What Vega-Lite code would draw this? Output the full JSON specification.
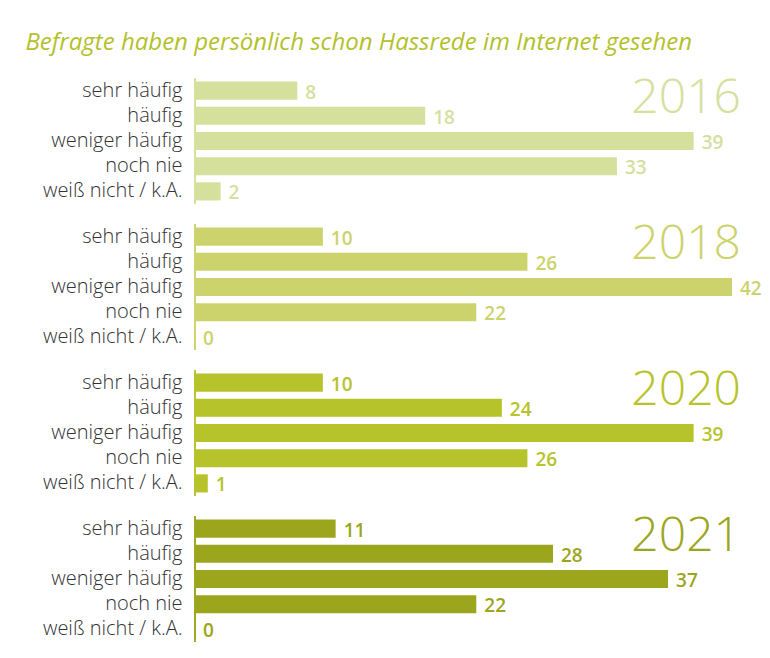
{
  "$schema": "https://vega.github.io/schema/vega-lite/v6.json",
  "background": "white",
  "padding": {"left": 25, "top": 30, "right": 10, "bottom": 10},
  "title": {
    "text": "Befragte haben persönlich schon Hassrede im Internet gesehen",
    "anchor": "start",
    "frame": "bounds",
    "font": "Open Sans",
    "fontSize": 24,
    "fontStyle": "italic",
    "fontWeight": "normal",
    "color": "#b3c12b",
    "offset": 20,
    "dx": -17
  },
  "data": {
    "values": [
      {"year": "2016", "cat": "sehr häufig", "value": 8},
      {"year": "2016", "cat": "häufig", "value": 18},
      {"year": "2016", "cat": "weniger häufig", "value": 39},
      {"year": "2016", "cat": "noch nie", "value": 33},
      {"year": "2016", "cat": "weiß nicht / k.A.", "value": 2},
      {"year": "2018", "cat": "sehr häufig", "value": 10},
      {"year": "2018", "cat": "häufig", "value": 26},
      {"year": "2018", "cat": "weniger häufig", "value": 42},
      {"year": "2018", "cat": "noch nie", "value": 22},
      {"year": "2018", "cat": "weiß nicht / k.A.", "value": 0},
      {"year": "2020", "cat": "sehr häufig", "value": 10},
      {"year": "2020", "cat": "häufig", "value": 24},
      {"year": "2020", "cat": "weniger häufig", "value": 39},
      {"year": "2020", "cat": "noch nie", "value": 26},
      {"year": "2020", "cat": "weiß nicht / k.A.", "value": 1},
      {"year": "2021", "cat": "sehr häufig", "value": 11},
      {"year": "2021", "cat": "häufig", "value": 28},
      {"year": "2021", "cat": "weniger häufig", "value": 37},
      {"year": "2021", "cat": "noch nie", "value": 22},
      {"year": "2021", "cat": "weiß nicht / k.A.", "value": 0}
    ]
  },
  "facet": {"row": {"field": "year", "type": "nominal", "header": null}},
  "spacing": {"row": 15},
  "spec": {
    "width": 560,
    "height": 126,
    "layer": [
      {
        "mark": {"type": "bar"},
        "encoding": {
          "y": {
            "field": "cat", "type": "nominal",
            "sort": ["sehr häufig", "häufig", "weniger häufig", "noch nie", "weiß nicht / k.A."],
            "scale": {"paddingInner": 0.28, "paddingOuter": 0.14},
            "axis": {"title": null, "ticks": false, "domain": false, "labelPadding": 12, "labelFontSize": 20, "labelColor": "#333333", "labelFont": "Open Sans", "labelFontWeight": 300}
          },
          "x": {"field": "value", "type": "quantitative", "scale": {"domain": [0, 43.8], "nice": false}, "axis": null},
          "color": {"field": "year", "type": "nominal", "scale": {"domain": ["2016", "2018", "2020", "2021"], "range": ["#d4e09c", "#ccd36c", "#b7c32a", "#9ca61c"]}, "legend": null}
        }
      },
      {
        "mark": {"type": "rule", "strokeWidth": 1},
        "encoding": {
          "x": {"datum": 0, "type": "quantitative"},
          "color": {"field": "year", "type": "nominal"}
        }
      },
      {
        "mark": {"type": "text", "align": "left", "baseline": "middle", "dx": 8, "dy": 2, "fontSize": 19, "fontWeight": 600, "font": "Open Sans"},
        "encoding": {
          "y": {"field": "cat", "type": "nominal", "sort": ["sehr häufig", "häufig", "weniger häufig", "noch nie", "weiß nicht / k.A."]},
          "x": {"field": "value", "type": "quantitative"},
          "text": {"field": "value", "type": "quantitative"},
          "color": {"field": "year", "type": "nominal"}
        }
      },
      {
        "transform": [{"filter": "datum.cat === 'sehr häufig'"}],
        "mark": {"type": "text", "align": "right", "baseline": "alphabetic", "dy": 22, "fontSize": 48, "fontWeight": 300, "font": "Open Sans"},
        "encoding": {
          "y": {"field": "cat", "type": "nominal", "sort": ["sehr häufig", "häufig", "weniger häufig", "noch nie", "weiß nicht / k.A."]},
          "x": {"datum": 42.7, "type": "quantitative"},
          "text": {"field": "year", "type": "nominal"},
          "color": {"field": "year", "type": "nominal"}
        }
      }
    ]
  },
  "config": {"view": {"stroke": null}, "font": "Open Sans"}
}
